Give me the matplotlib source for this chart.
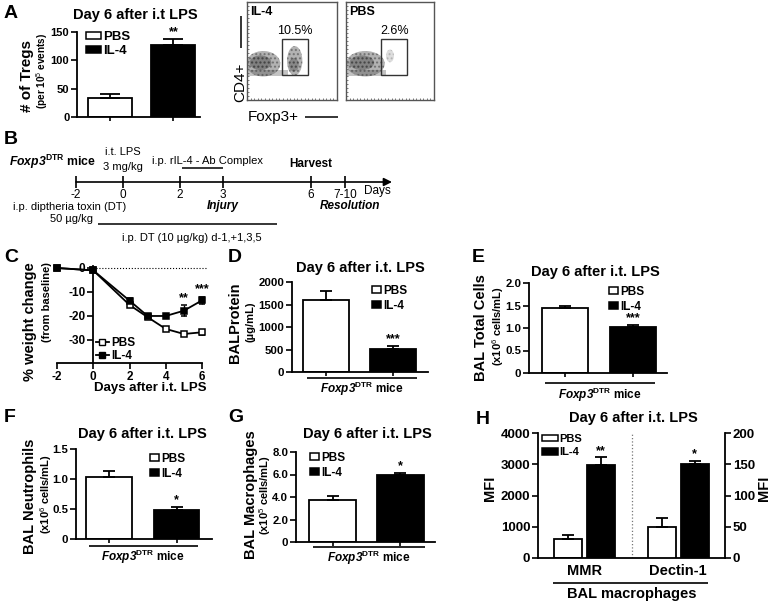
import numpy as np
import matplotlib
matplotlib.use("Agg")
import matplotlib.pyplot as plt
from matplotlib.patches import Rectangle, Ellipse, Patch
from matplotlib.lines import Line2D

plt.rcParams['font.family'] = ['Liberation Sans', 'DejaVu Sans']
plt.rcParams['mathtext.fontset'] = 'custom'
plt.rcParams['mathtext.rm'] = 'Liberation Sans'
plt.rcParams['mathtext.it'] = 'Liberation Sans:italic'
plt.rcParams['mathtext.bf'] = 'Liberation Sans:bold'
try:
    plt.rcParams['mathtext.bfit'] = 'Liberation Sans:italic:bold'
    FOX = r"$\mathbfit{Foxp3}^{\mathregular{DTR}}$ mice"
except Exception:
    FOX = r"$\mathit{Foxp3}^{\mathregular{DTR}}$ mice"

# ---------------- data ----------------
groups = ["PBS", "IL-4"]
tregs = [34, 127]
tregs_err = [7, 11]
tregs_stars = "**"

days = [-2, 0, 2, 3, 4, 5, 6]
weight_pbs = [0, -1, -15.4, -20.5, -25.4, -27.5, -26.8]
weight_pbs_err = [0.4, 0.6, 0.9, 0.9, 0.9, 1.0, 1.0]
weight_il4 = [0, -1, -13.6, -20, -20, -17.8, -13.5]
weight_il4_err = [0.4, 0.6, 0.9, 0.9, 0.9, 2.2, 1.5]
weight_stars = {5: "**", 6: "***"}

protein = [1590, 510]
protein_err = [220, 60]
total_cells = [1.44, 1.02]
total_cells_err = [0.06, 0.05]
neutrophils = [1.04, 0.48]
neutrophils_err = [0.10, 0.06]
macrophages = [3.7, 6.0]
macrophages_err = [0.35, 0.12]

mfi_markers = ["MMR", "Dectin-1"]
mmr = [620, 2980]
mmr_err = [130, 240]
dectin = [50, 150]
dectin_err = [14, 6]

flow_pct = {"IL-4": "10.5%", "PBS": "2.6%"}

timeline_days = ["-2", "0", "2", "3", "6", "7-10"]

# ---------------- figure helpers ----------------
W, H = 774, 604
fig = plt.figure(figsize=(W / 100, H / 100), dpi=100)


def add_ax(x0, y0, x1, y1):
    return fig.add_axes([x0 / W, 1 - y1 / H, (x1 - x0) / W, (y1 - y0) / H])


def fxy(x, y):
    return (x / W, 1 - y / H)


LW = 1.3
BAR_COLORS = ["white", "black"]


def style_axes(ax, ysize=8.5):
    for s in ["top", "right"]:
        ax.spines[s].set_visible(False)
    for s in ["left", "bottom"]:
        ax.spines[s].set_linewidth(LW)
    ax.tick_params(axis="y", direction="out", length=4, width=1.2,
                   labelsize=ysize, pad=1.5)
    ax.tick_params(axis="x", direction="out", length=3, width=1.2,
                   labelbottom=False)


def bar_legend(ax, x, y, size=8.5, hl=0.8, hh=0.55, spacing=0.25):
    handles = [Patch(facecolor=c, edgecolor="black", linewidth=1.1, label=g)
               for g, c in zip(groups, BAR_COLORS)]
    ax.legend(handles=handles, loc="upper left", bbox_to_anchor=fxy(x, y),
              bbox_transform=fig.transFigure, frameon=False,
              prop={"weight": "bold", "size": size}, handlelength=hl,
              handleheight=hh, handletextpad=0.15, labelspacing=spacing,
              borderpad=0, borderaxespad=0)


def bar_panel(rect, vals, errs, ylim, yticks, ylabels, xlim, width, stars,
              capsize=4.5, ysize=8.5):
    ax = add_ax(*rect)
    pos = np.arange(len(vals))
    ax.bar(pos, vals, width=width, color=BAR_COLORS, edgecolor="black",
           linewidth=LW, zorder=2)
    ax.errorbar(pos, vals, yerr=[np.zeros(len(vals)), errs], fmt="none",
                ecolor="black", elinewidth=LW, capsize=capsize,
                capthick=LW, zorder=3)
    ax.set_xlim(*xlim)
    ax.set_ylim(*ylim)
    ax.set_xticks(pos)
    ax.set_yticks(yticks, ylabels, fontweight="bold")
    style_axes(ax, ysize)
    ax.annotate(stars, xy=(1, vals[1] + errs[1]), xytext=(0, 0.5),
                textcoords="offset points", ha="center", va="bottom",
                fontsize=9, fontweight="bold")
    return ax


# ---------------- overlay (pixel coordinates) ----------------
ov = fig.add_axes([0, 0, 1, 1])
ov.set_xlim(0, W)
ov.set_ylim(H, 0)
ov.axis("off")
ov.set_zorder(10)
ov.patch.set_alpha(0)


def T(x, y, s, size=9, weight="normal", ha="center", va="center", rot=0,
      style="normal"):
    ov.text(x, y, s, fontsize=size, fontweight=weight, ha=ha, va=va,
            rotation=rot, fontstyle=style)


def L(xs, ys, lw=1.2, ls="-", color="black"):
    ov.plot(xs, ys, color=color, lw=lw, ls=ls, solid_capstyle="butt")


# panel letters
for letter, x, y in [("A", 4, 13), ("B", 4, 140), ("C", 4, 258), ("D", 228, 258),
                     ("E", 472, 257), ("F", 4, 418), ("G", 228, 418), ("H", 476, 420)]:
    T(x, y, letter, size=14, weight="bold", ha="left")

# ---------------- Panel A ----------------
axA = bar_panel((77, 32, 200, 117), tregs, tregs_err, (0, 150), [0, 50, 100, 150],
                ["0", "50", "100", "150"], (-0.52, 1.42), 0.69, tregs_stars,
                capsize=7, ysize=8)
bar_legend(axA, 86, 31, size=9.5, hl=1.15, hh=0.5, spacing=0.15)
T(135, 15, "Day 6 after i.t LPS", size=10.5, weight="bold")
T(27, 76, "# of Tregs", size=11, weight="bold", rot=90)
T(42.5, 71, r"(per 10$^{5}$ events)", size=7.2, weight="bold", rot=90)

# flow plots (cell clouds shown as shaded density regions)
flow_boxes = {"IL-4": (247, 2, 337, 100), "PBS": (346, 2, 434, 100)}
clouds = {
    "IL-4": [(18, 37, 38, 26, 0.45), (15, 38, 24, 15, 0.55),
             (53, 40, 17, 30, 0.45), (52, 36, 11, 14, 0.45)],
    "PBS": [(22, 37, 44, 26, 0.45), (18, 38, 28, 15, 0.5),
            (50, 45, 9, 13, 0.2)],
}
gates = {"IL-4": (39, 25.5, 29, 36.7), "PBS": (40, 25.5, 29.5, 36.7)}
for name, (x0, y0, x1, y1) in flow_boxes.items():
    ax = add_ax(x0, y0, x1, y1)
    ax.set_xlim(0, 100)
    ax.set_ylim(0, 100)
    for s in ax.spines.values():
        s.set_color("#555555")
        s.set_linewidth(1.0)
    ax.set_xticks(np.linspace(4, 96, 24))
    ax.set_yticks(np.linspace(4, 96, 24))
    ax.tick_params(direction="in", length=1.5, width=0.6, colors="#666666",
                   labelbottom=False, labelleft=False)
    ax.add_patch(Rectangle((0, 24), 46, 7, facecolor="#bdbdbd",
                           edgecolor="none", alpha=0.9))
    for cx, cy, w, h, a in clouds[name]:
        ax.add_patch(Ellipse((cx, cy), w, h, facecolor="#555555",
                             edgecolor="none", alpha=a))
        ax.add_patch(Ellipse((cx, cy), w, h, facecolor="none",
                             edgecolor="#333333", hatch="....", linewidth=0,
                             alpha=a))
    gx, gy, gw, gh = gates[name]
    ax.add_patch(Rectangle((gx, gy), gw, gh, facecolor="none",
                           edgecolor="#333333", linewidth=1.0))
    ax.text(gx + gw / 2, gy + gh + 2, flow_pct[name], ha="center", va="bottom",
            fontsize=9)
    ax.text(3, 96, name, ha="left", va="top", fontsize=9, fontweight="bold")

T(240, 82, "CD4+", size=11, rot=90)
L([241, 241], [16, 48], lw=1.1)
T(248, 117, "Foxp3+", size=11, ha="left")
L([305, 338], [117, 117], lw=1.1)

# ---------------- Panel B (timeline) ----------------
tl_x = [76, 123, 180, 223, 311, 345]
ov.annotate("", xy=(392, 182), xytext=(76, 182),
            arrowprops=dict(arrowstyle="-|>", lw=1.2, color="black",
                            mutation_scale=12, shrinkA=0, shrinkB=0))
for x, lab in zip(tl_x, timeline_days):
    L([x, x], [176, 188], lw=1.2)
    T(x, 195, lab, size=8.5)
T(377, 191, "Days", size=8.5)
T(9, 162, FOX, size=8.8, weight="bold", ha="left")
T(123, 152, "i.t. LPS", size=8)
T(123, 167, "3 mg/kg", size=8)
T(207, 161, "i.p. rIL-4 - Ab Complex", size=8)
L([182, 223], [168, 168], lw=1.1)
T(311, 164, "Harvest", size=8.5, weight="bold")
T(223, 206, "Injury", size=8.5, weight="bold", style="italic")
T(350, 206, "Resolution", size=8.5, weight="bold", style="italic")
T(70, 207, "i.p. diptheria toxin (DT)", size=8)
T(72, 219, "50 µg/kg", size=8)
L([98, 277], [224, 224], lw=1.1)
T(192, 238, "i.p. DT (10 µg/kg) d-1,+1,3,5", size=8)

# ---------------- Panel C ----------------
axC = add_ax(57, 265.6, 202, 363)
axC.set_xlim(-2, 6)
axC.set_ylim(-39.6, 1.0)
axC.hlines(0, 0, 6.2, linestyles=":", color="black", lw=0.8, clip_on=False)
for vals, errs, fc, lab in [(weight_pbs, weight_pbs_err, "white", "PBS"),
                            (weight_il4, weight_il4_err, "black", "IL-4")]:
    cont = axC.errorbar(days, vals, yerr=errs, marker="s", mfc=fc, mec="black",
                        mew=1.1, ms=4.5, color="black", lw=1.3, capsize=2,
                        elinewidth=1.0, label=lab)
    for art in cont.get_children():
        art.set_clip_on(False)
for d, s in weight_stars.items():
    i = days.index(d)
    axC.annotate(s, xy=(d, weight_il4[i] + weight_il4_err[i]), xytext=(0, 1),
                 textcoords="offset points", ha="center", va="bottom",
                 fontsize=9, fontweight="bold")
axC.spines["left"].set_position(("data", 0))
for s in ["top", "right"]:
    axC.spines[s].set_visible(False)
for s in ["left", "bottom"]:
    axC.spines[s].set_linewidth(LW)
axC.set_xticks([-2, 0, 2, 4, 6], ["-2", "0", "2", "4", "6"], fontweight="bold")
axC.set_yticks([0, -10, -20, -30], ["0", "-10", "-20", "-30"], fontweight="bold")
axC.tick_params(direction="out", length=4, width=1.2, labelsize=8.5, pad=1.5)
c_handles = [Line2D([], [], color="black", lw=1.3, marker="s", ms=4.5,
                    mfc=fc, mec="black", label=g)
             for g, fc in zip(groups, BAR_COLORS)]
axC.legend(handles=c_handles, loc="upper left", bbox_to_anchor=fxy(96, 337),
           bbox_transform=fig.transFigure, frameon=False,
           prop={"weight": "bold", "size": 8.5}, handlelength=1.1,
           handletextpad=0.15, labelspacing=0.1, borderpad=0, borderaxespad=0)
T(30, 262, "% weight change", size=10.5, weight="bold", rot=90, va="top")
T(47, 262, "(from baseline)", size=8, weight="bold", rot=90, va="top")
T(150, 388, "Days after i.t. LPS", size=9.5, weight="bold")

# ---------------- Panel D ----------------
axD = bar_panel((292, 282, 428, 372), protein, protein_err, (0, 2000),
                [0, 500, 1000, 1500, 2000], ["0", "500", "1000", "1500", "2000"],
                (-0.5, 1.52), 0.68, "***", ysize=8.2)
bar_legend(axD, 372, 285)
T(360, 268, "Day 6 after i.t. LPS", size=10.5, weight="bold")
T(235, 323, "BALProtein", size=10.5, weight="bold", rot=90)
T(250, 322, "(µg/mL)", size=8, weight="bold", rot=90)
L([307, 417], [378, 378])
T(362, 389, FOX, size=8.5, weight="bold")

# ---------------- Panel E ----------------
axE = bar_panel((529, 283, 667, 373), total_cells, total_cells_err, (0, 2),
                [0, 0.5, 1.0, 1.5, 2.0], ["0", "0.5", "1.0", "1.5", "2.0"],
                (-0.53, 1.5), 0.68, "***", ysize=8.2)
bar_legend(axE, 609, 286)
T(595, 272, "Day 6 after i.t. LPS", size=10.5, weight="bold")
T(481, 328, "BAL Total Cells", size=10.5, weight="bold", rot=90)
T(498, 326, r"(x10$^{6}$ cells/mL)", size=8, weight="bold", rot=90)
L([545, 655], [383, 383])
T(600, 395, FOX, size=8.5, weight="bold")

# ---------------- Panel F ----------------
axF = bar_panel((76, 449, 212, 539), neutrophils, neutrophils_err, (0, 1.5),
                [0, 0.5, 1.0, 1.5], ["0", "0.5", "1.0", "1.5"],
                (-0.49, 1.52), 0.67, "*", ysize=8.2)
bar_legend(axF, 150, 453)
T(142, 434, "Day 6 after i.t. LPS", size=10.5, weight="bold")
T(30, 496, "BAL Neutrophils", size=10.5, weight="bold", rot=90)
T(46, 494, r"(x10$^{6}$ cells/mL)", size=8, weight="bold", rot=90)
L([89, 198], [546, 546])
T(143, 557, FOX, size=8.5, weight="bold")

# ---------------- Panel G ----------------
axG = bar_panel((296, 452, 435, 542), macrophages, macrophages_err, (0, 8),
                [0, 2, 4, 6, 8], ["0", "2.0", "4.0", "6.0", "8.0"],
                (-0.54, 1.51), 0.69, "*", ysize=8.2)
bar_legend(axG, 310, 452)
T(367, 434, "Day 6 after i.t. LPS", size=10.5, weight="bold")
T(251, 495, "BAL Macrophages", size=10.5, weight="bold", rot=90)
T(265, 495, r"(x10$^{5}$ cells/mL)", size=8, weight="bold", rot=90)
L([313, 425], [547, 547])
T(369, 558, FOX, size=8.5, weight="bold")

# ---------------- Panel H ----------------
axH = add_ax(538, 433, 725, 558)
axH2 = axH.twinx()
posL = np.array([0.65, 1.35])
posR = np.array([2.65, 3.35])
axH.bar(posL, mmr, width=0.6, color=BAR_COLORS, edgecolor="black", linewidth=LW,
        zorder=2)
axH.errorbar(posL, mmr, yerr=[np.zeros(2), mmr_err], fmt="none", ecolor="black",
             elinewidth=LW, capsize=4.5, capthick=LW, zorder=3)
axH2.bar(posR, dectin, width=0.6, color=BAR_COLORS, edgecolor="black",
         linewidth=LW, zorder=2)
axH2.errorbar(posR, dectin, yerr=[np.zeros(2), dectin_err], fmt="none",
              ecolor="black", elinewidth=LW, capsize=4.5, capthick=LW, zorder=3)
axH.set_xlim(0, 4)
axH.set_ylim(0, 4000)
axH2.set_ylim(0, 200)
axH.axvline(2, ls=":", color="#777777", lw=0.9)
axH.set_yticks([0, 1000, 2000, 3000, 4000],
               ["0", "1000", "2000", "3000", "4000"], fontweight="bold")
axH2.set_yticks([0, 50, 100, 150, 200], ["0", "50", "100", "150", "200"],
                fontweight="bold")
axH.set_xticks([1, 3])
axH.set_xticklabels(mfi_markers, fontweight="bold", fontsize=10.5)
axH.spines["top"].set_visible(False)
axH.spines["right"].set_visible(False)
axH2.spines["top"].set_visible(False)
axH2.spines["left"].set_visible(False)
axH2.spines["bottom"].set_visible(False)
for s in ["left", "bottom"]:
    axH.spines[s].set_linewidth(LW)
axH2.spines["right"].set_linewidth(LW)
axH.tick_params(axis="y", direction="out", length=4, width=1.2, labelsize=9.5,
                pad=1.5)
axH2.tick_params(axis="y", direction="out", length=4, width=1.2, labelsize=9.5,
                 pad=1.5)
axH.tick_params(axis="x", length=0, pad=4)
axH.annotate("**", xy=(posL[1], mmr[1] + mmr_err[1]), xytext=(0, 0.5),
             textcoords="offset points", ha="center", va="bottom", fontsize=9,
             fontweight="bold")
axH2.annotate("*", xy=(posR[1], dectin[1] + dectin_err[1]), xytext=(0, 0.5),
              textcoords="offset points", ha="center", va="bottom", fontsize=9,
              fontweight="bold")
bar_legend(axH2, 542, 434, size=8, hl=1.4, hh=0.55, spacing=0.3)
T(633, 418, "Day 6 after i.t. LPS", size=10.5, weight="bold")
T(490, 488, "MFI", size=10.5, weight="bold", rot=90)
T(764, 488, "MFI", size=10.5, weight="bold", rot=90)
L([553, 708], [583, 583])
T(632, 594, "BAL macrophages", size=10.5, weight="bold")

fig.savefig("out.png", dpi=100)
